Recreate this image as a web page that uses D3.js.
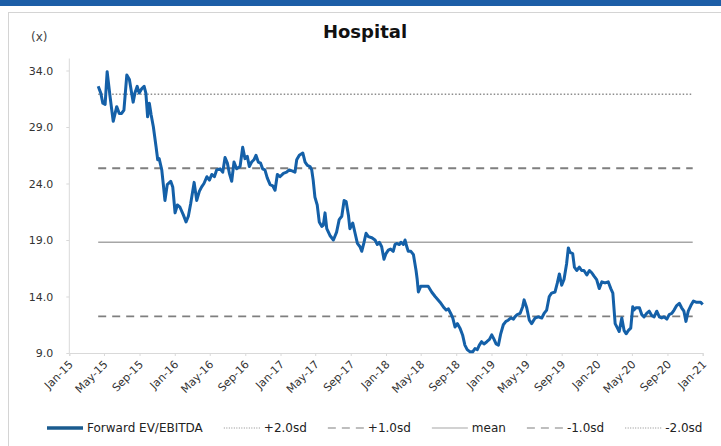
<!DOCTYPE html>
<html>
<head>
<meta charset="utf-8">
<script src="https://cdn.jsdelivr.net/npm/d3@7/dist/d3.min.js"></script>
<style>
  html, body { margin: 0; padding: 0; background: #fff; }
  svg { display: block; font-family: "DejaVu Sans", Verdana, sans-serif; }
</style>
</head>
<body>
<svg id="chart" width="721" height="446"></svg>
<script>
// Forward EV/EBITDA multiple, weekly readings
const dates = [
  "2015-04-11","2015-04-20","2015-04-27","2015-05-05","2015-05-12","2015-05-22","2015-06-02","2015-06-14","2015-06-23","2015-07-01",
  "2015-07-09","2015-07-19","2015-07-28","2015-08-10","2015-08-16","2015-08-24","2015-08-31","2015-09-09","2015-09-17","2015-09-23",
  "2015-09-29","2015-10-05","2015-10-11","2015-10-19","2015-10-28","2015-11-03","2015-11-08","2015-11-17","2015-11-22","2015-11-28",
  "2015-12-06","2015-12-18","2015-12-25","2016-01-02","2016-01-10","2016-01-19","2016-01-31","2016-02-09","2016-02-17","2016-02-25",
  "2016-03-08","2016-03-17","2016-03-26","2016-04-03","2016-04-11","2016-04-21","2016-04-30","2016-05-08","2016-05-17","2016-05-25",
  "2016-06-06","2016-06-15","2016-06-23","2016-07-01","2016-07-08","2016-07-16","2016-07-24","2016-08-02","2016-08-14","2016-08-23",
  "2016-08-31","2016-09-08","2016-09-15","2016-09-23","2016-10-01","2016-10-08","2016-10-16","2016-10-24","2016-10-31","2016-11-08",
  "2016-11-16","2016-11-26","2016-12-05","2016-12-13","2016-12-21","2016-12-30","2017-01-11","2017-01-22","2017-01-31","2017-02-12",
  "2017-02-20","2017-02-26","2017-03-07","2017-03-19","2017-03-27","2017-04-04","2017-04-13","2017-04-19","2017-04-24","2017-04-30",
  "2017-05-08","2017-05-15","2017-05-24","2017-05-29","2017-06-04","2017-06-10","2017-06-21","2017-07-03","2017-07-14","2017-07-23",
  "2017-08-01","2017-08-09","2017-08-16","2017-08-24","2017-08-29","2017-09-08","2017-09-16","2017-09-24","2017-10-03","2017-10-09",
  "2017-10-17","2017-10-24","2017-11-01","2017-11-13","2017-11-24","2017-12-02","2017-12-09","2017-12-17","2017-12-25","2018-01-01",
  "2018-01-09","2018-01-17","2018-01-26","2018-02-01","2018-02-07","2018-02-16","2018-02-22","2018-03-02","2018-03-08","2018-03-14",
  "2018-03-19","2018-03-28","2018-04-06","2018-04-15","2018-04-19","2018-04-23","2018-05-01","2018-05-13","2018-05-27","2018-06-08",
  "2018-06-20","2018-07-07","2018-07-21","2018-07-28","2018-08-05","2018-08-13","2018-08-20","2018-08-28","2018-09-05","2018-09-14",
  "2018-09-23","2018-10-01","2018-10-09","2018-10-19","2018-10-28","2018-11-05","2018-11-13","2018-11-20","2018-11-28","2018-12-06",
  "2018-12-16","2018-12-25","2019-01-02","2019-01-10","2019-01-17","2019-01-25","2019-02-02","2019-02-11","2019-02-20","2019-02-28",
  "2019-03-09","2019-03-18","2019-03-23","2019-03-31","2019-04-10","2019-04-19","2019-04-24","2019-05-03","2019-05-12","2019-05-20",
  "2019-06-01","2019-06-12","2019-06-24","2019-07-02","2019-07-11","2019-07-20","2019-07-28","2019-08-09","2019-08-17","2019-08-24",
  "2019-09-01","2019-09-09","2019-09-18","2019-09-24","2019-09-30","2019-10-09","2019-10-15","2019-10-23","2019-11-01","2019-11-09",
  "2019-11-17","2019-11-27","2019-12-06","2019-12-14","2019-12-22","2019-12-31","2020-01-09","2020-01-18","2020-01-29","2020-02-09",
  "2020-02-18","2020-02-25","2020-03-04","2020-03-12","2020-03-18","2020-03-27","2020-04-04","2020-04-11","2020-04-19","2020-04-27",
  "2020-05-04","2020-05-08","2020-05-15","2020-05-27","2020-06-04","2020-06-12","2020-06-21","2020-06-30","2020-07-09","2020-07-17",
  "2020-07-26","2020-08-04","2020-08-12","2020-08-20","2020-08-30","2020-09-07","2020-09-16","2020-09-24","2020-10-03","2020-10-12",
  "2020-10-20","2020-10-28","2020-11-04","2020-11-12","2020-11-21","2020-11-30","2020-12-09","2020-12-17","2020-12-25","2021-01-01"
];
const evEbitda = [
  32.6,32.0,31.1,31.0,33.9,31.7,29.5,30.8,30.2,30.2,
  30.5,33.6,33.2,31.2,32.0,32.6,32.0,32.4,32.6,32.0,
  29.9,31.1,30.1,29.0,27.3,26.1,26.2,25.2,24.0,22.5,
  23.9,24.2,23.7,21.4,22.1,21.9,21.2,20.6,21.1,22.2,
  24.1,22.5,23.3,23.7,24.0,24.6,24.3,24.8,24.6,25.2,
  25.3,25.0,26.3,25.8,24.9,24.2,25.9,25.3,25.5,27.2,
  26.2,26.4,25.5,25.9,26.1,26.5,25.9,25.8,25.3,25.2,
  24.5,23.9,23.8,23.4,24.8,24.6,24.9,25.0,25.2,25.1,
  25.0,26.1,26.5,26.7,25.9,25.6,25.5,25.2,24.3,22.8,
  22.1,20.6,20.2,20.3,21.4,20.0,19.4,19.0,19.7,20.8,
  21.1,22.5,22.4,21.2,20.0,20.5,19.6,18.7,18.4,18.0,
  18.8,19.6,19.3,19.2,19.0,18.6,18.8,18.4,17.3,17.8,
  18.1,18.2,18.0,18.6,18.7,18.6,18.8,18.6,19.0,18.4,
  18.0,18.0,17.7,16.3,15.5,14.4,14.9,14.9,14.9,14.4,
  14.0,13.5,13.0,12.8,12.9,12.5,12.1,11.3,11.6,11.2,
  10.6,9.7,9.3,9.1,9.1,9.4,9.3,9.7,10.0,9.8,
  10.0,10.2,10.6,10.2,9.8,9.7,10.7,11.5,11.8,11.9,
  12.1,12.0,12.2,12.4,12.5,13.1,13.7,13.0,11.9,11.6,
  12.1,12.2,12.1,12.5,12.8,14.0,14.3,14.4,15.2,16.0,
  15.0,15.5,16.9,18.3,17.9,17.8,16.6,16.3,16.6,16.3,
  16.3,15.9,16.3,16.1,15.8,15.5,14.7,15.3,15.2,15.3,
  14.7,14.3,11.6,11.2,10.9,12.1,11.0,10.7,11.0,11.2,
  13.1,12.8,13.0,13.0,12.4,12.2,12.5,12.7,12.3,12.2,
  12.7,12.2,12.1,12.2,12.0,12.4,12.5,12.8,13.2,13.4,
  13.0,12.7,11.8,12.7,13.2,13.6,13.5,13.5,13.5,13.3
];

// Mean and standard-deviation bands
const bandLabels = ["+2.0sd", "+1.0sd", "mean", "-1.0sd", "-2.0sd"];
const bandValues = [31.9, 25.35, 18.8, 12.25, 5.7];

// Axis ticks
const yTicks = [9, 14, 19, 24, 29, 34];
const xTickDates = [
  "2015-01-01","2015-05-01","2015-09-01","2016-01-01","2016-05-01","2016-09-01",
  "2017-01-01","2017-05-01","2017-09-01","2018-01-01","2018-05-01","2018-09-01",
  "2019-01-01","2019-05-01","2019-09-01","2020-01-01","2020-05-01","2020-09-01","2021-01-01"
];

const parse = d3.timeParse("%Y-%m-%d");
const series = dates.map((d, i) => ({ date: parse(d), value: evEbitda[i] }));

const svg = d3.select("#chart");

// page furniture: header band and panel frame
svg.append("rect").attr("x", 0).attr("y", 0).attr("width", 721).attr("height", 6).attr("fill", "#1d5ea7");
svg.append("rect").attr("x", 8.5).attr("y", 12.5).attr("width", 740).attr("height", 460)
  .attr("fill", "none").attr("stroke", "#d4d4d4").attr("stroke-width", 1);

const x = d3.scaleTime()
  .domain([parse("2015-01-01"), parse("2021-01-01")])
  .range([69.3, 702.7]);
const y = d3.scaleLinear().domain([9, 34]).range([353, 70.5]);

// title and unit
svg.append("text").attr("x", 365).attr("y", 38).attr("text-anchor", "middle")
  .attr("font-size", 18).attr("font-weight", "bold").attr("fill", "#111").text("Hospital");
svg.append("text").attr("x", 31).attr("y", 41).attr("font-size", 12).attr("fill", "#444").text("(x)");

// y axis
const yAxis = d3.axisLeft(y).tickValues(yTicks).tickFormat(d3.format(".1f")).tickSize(3).tickPadding(13);
const gy = svg.append("g").attr("transform", "translate(69.3,0)").call(yAxis);
gy.select(".domain").attr("stroke", "#d9d9d9").attr("d", `M0,${y(34) - 12}V${y(9)}`);
gy.selectAll(".tick line").attr("stroke", "#d9d9d9");
gy.selectAll(".tick text").attr("font-size", 11).attr("fill", "#333").attr("font-family", "DejaVu Sans");

// x axis
const xAxis = d3.axisBottom(x).tickValues(xTickDates.map(parse)).tickFormat(d3.timeFormat("%b-%y")).tickSize(3);
const gx = svg.append("g").attr("transform", `translate(0,${y(9)})`).call(xAxis);
gx.select(".domain").attr("stroke", "#d9d9d9");
gx.selectAll(".tick line").attr("stroke", "#d9d9d9");
gx.selectAll(".tick text")
  .attr("font-size", 11).attr("fill", "#333").attr("font-family", "DejaVu Sans")
  .attr("text-anchor", "end").attr("dy", null).attr("y", 0)
  .attr("transform", "translate(4,12) rotate(-45)");

// band lines
const bandStyle = {
  "+2.0sd": { dash: "1.5,2", width: 1.3, color: "#8c8c8c" },
  "+1.0sd": { dash: "8,6", width: 1.8, color: "#7f7f7f" },
  "mean":   { dash: null, width: 1.3, color: "#a6a6a6" },
  "-1.0sd": { dash: "8,6", width: 1.8, color: "#7f7f7f" },
  "-2.0sd": { dash: "1.5,2", width: 1.3, color: "#8c8c8c" }
};
const xStart = series[0].date, xEnd = series[series.length - 1].date;
bandLabels.forEach((lab, i) => {
  const v = bandValues[i];
  if (v < y.domain()[0] || v > y.domain()[1]) return;
  const st = bandStyle[lab];
  svg.append("line")
    .attr("x1", x(xStart)).attr("x2", x(xEnd) - 10)
    .attr("y1", y(v)).attr("y2", y(v))
    .attr("stroke", st.color).attr("stroke-width", st.width)
    .attr("stroke-dasharray", st.dash);
});

// main series
const line = d3.line().x(d => x(d.date)).y(d => y(d.value));
svg.append("path").datum(series)
  .attr("d", line)
  .attr("fill", "none").attr("stroke", "#1460a8").attr("stroke-width", 3)
  .attr("stroke-linejoin", "round");

// legend
const legendItems = [{ label: "Forward EV/EBITDA", style: { dash: null, width: 3.5, color: "#1a5b8f" } }]
  .concat(bandLabels.map(l => ({ label: l, style: bandStyle[l] })));
let lx = 47;
const ly = 428;
const lg = svg.append("g");
legendItems.forEach((it, i) => {
  lg.append("line").attr("x1", lx).attr("x2", lx + 36).attr("y1", ly).attr("y2", ly)
    .attr("stroke", it.style.color).attr("stroke-width", i === 0 ? 3.5 : 1.2)
    .attr("stroke-dasharray", it.style.dash ? (it.style.dash === "8,6" ? "8,6" : "1,1.5") : null);
  const t = lg.append("text").attr("x", lx + 40).attr("y", ly + 4)
    .attr("font-size", 12).attr("fill", "#222").text(it.label);
  lx += 40 + t.node().getComputedTextLength() + 21;
});
</script>
</body>
</html>
